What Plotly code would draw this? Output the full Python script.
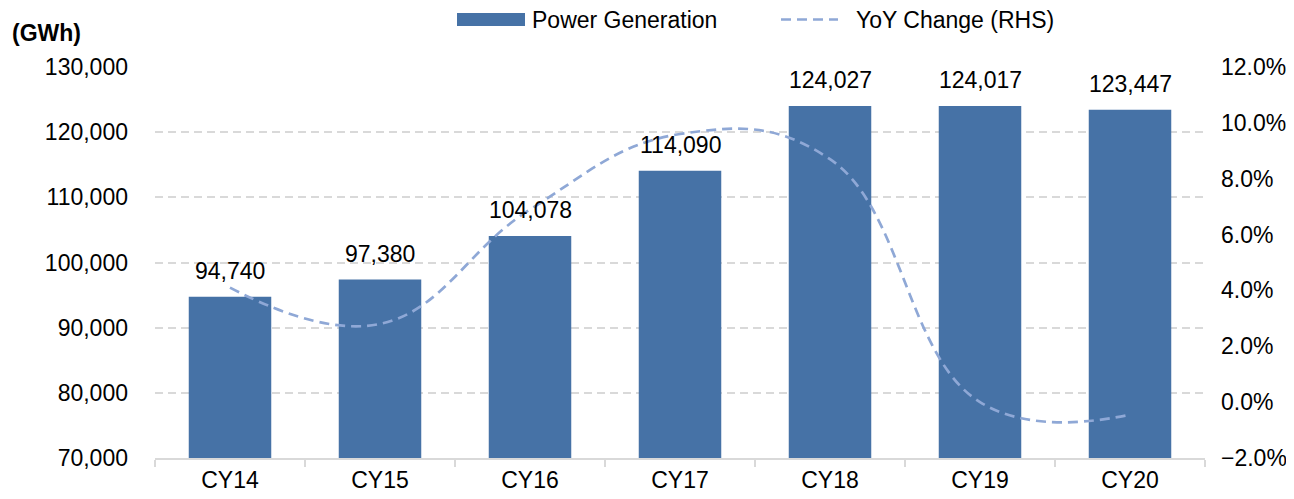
import plotly.graph_objects as go

categories = ["CY14", "CY15", "CY16", "CY17", "CY18", "CY19", "CY20"]
generation = [94740, 97380, 104078, 114090, 124027, 124017, 123447]
yoy_change = [4.1, 2.8, 6.9, 9.6, 8.7, 0.0, -0.45]

bar_color = "#4672A6"
line_color = "#8FA8D6"
grid_color = "#d9d9d9"
font_family = "Liberation Sans, Arial, sans-serif"
FS = 23

# page body has an 8px margin; figure coordinates are window pixels minus 8
OFF = 8
W, H = 1294 - OFF, 499 - OFF
L, R, T, B = 155 - OFF, 1205 - OFF, 67 - OFF, 458 - OFF


def px(x):
    return (x - OFF - L) / (R - L)


def py(y):
    return (B - (y - OFF)) / (B - T)


fig = go.Figure()
fig.add_trace(go.Bar(
    x=categories, y=generation, name="Power Generation",
    marker=dict(color=bar_color, line=dict(width=0)),
))
fig.add_trace(go.Scatter(
    x=categories, y=yoy_change, name="YoY Change (RHS)", yaxis="y2",
    mode="lines", line=dict(color=line_color, width=2.7, dash="10px,6px",
                            shape="spline", smoothing=1.2),
))

shapes = [
    dict(type="rect", xref="paper", yref="paper", x0=px(457), x1=px(525), y0=py(26), y1=py(13),
         fillcolor=bar_color, line=dict(width=0)),
    dict(type="line", xref="paper", yref="paper", x0=px(781), x1=px(838), y0=py(19.5), y1=py(19.5),
         line=dict(color=line_color, width=2.7, dash="10px,6px")),
]
annotations = [
    dict(text="<b>(GWh)</b>", xref="paper", yref="paper", x=px(10), y=py(33),
         xanchor="left", yanchor="middle", showarrow=False, font=dict(size=FS)),
    dict(text="Power Generation", xref="paper", yref="paper", x=px(531), y=py(20),
         xanchor="left", yanchor="middle", showarrow=False, borderpad=0, font=dict(size=FS)),
    dict(text="YoY Change (RHS)", xref="paper", yref="paper", x=px(855), y=py(20),
         xanchor="left", yanchor="middle", showarrow=False, borderpad=0, font=dict(size=FS)),
]
for c, v in zip(categories, generation):
    annotations.append(dict(text=f"{v:,}", x=c, y=v, xref="x", yref="y",
                            xanchor="center", yanchor="middle", yshift=26,
                            showarrow=False, font=dict(size=FS)))

fig.update_layout(
    width=W, height=H,
    margin=dict(l=L, r=W - R, t=T, b=H - B, autoexpand=False),
    plot_bgcolor="white", paper_bgcolor="white",
    font=dict(family=font_family, size=FS, color="#000000"),
    bargap=0.45,
    showlegend=False,
    xaxis=dict(showline=True, linecolor=grid_color, linewidth=2, ticks="outside",
               tickson="boundaries", ticklen=7, tickcolor=grid_color, tickwidth=2,
               showgrid=False, tickfont=dict(size=FS)),
    yaxis=dict(range=[70000, 130000], dtick=10000, tickformat=",d", showgrid=True,
               gridcolor=grid_color, griddash="8px,5px", gridwidth=2, zeroline=False,
               ticks="", tickfont=dict(size=FS), ticklabelstandoff=26),
    yaxis2=dict(range=[-2, 12], dtick=2, tickformat=".1f", ticksuffix="%", overlaying="y",
                side="right", showgrid=False, zeroline=False, tickfont=dict(size=FS),
                ticklabelstandoff=15),
    shapes=shapes,
    annotations=annotations,
)

fig.write_html("out.html")
